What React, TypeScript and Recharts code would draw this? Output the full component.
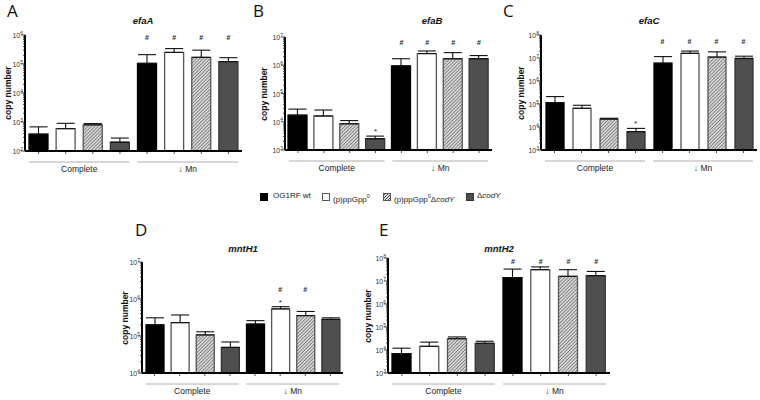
import React from "react";
import { Bar, Cell, ComposedChart, ErrorBar, Line, XAxis, YAxis } from "recharts";

const STRAINS = ["OG1RF wt", "(p)ppGpp⁰", "(p)ppGpp⁰ΔcodY", "ΔcodY"];
const CONDITIONS = ["Complete", "↓ Mn"];

// mean copy number and top of the error bar, Complete x4 then ↓Mn x4
const efaAMean = [380, 590, 800, 200, 105000, 250000, 170000, 120000];
const efaAUpper = [680, 900, 880, 280, 210000, 340000, 300000, 165000];
const efaAHash = [0, 0, 0, 0, 1, 1, 1, 1];
const efaAStar = [0, 0, 0, 0, 0, 0, 0, 0];

const efaBMean = [17000, 16000, 8500, 2500, 950000, 2600000, 1700000, 1700000];
const efaBUpper = [28000, 26000, 11000, 3100, 1700000, 3200000, 2800000, 2200000];
const efaBHash = [0, 0, 0, 0, 1, 1, 1, 1];
const efaBStar = [0, 0, 0, 1, 0, 0, 0, 0];

const efaCMean = [115000, 65000, 22000, 6300, 5900000, 16000000, 11000000, 9500000];
const efaCUpper = [210000, 88000, 24000, 8700, 11500000, 20000000, 18500000, 12000000];
const efaCHash = [0, 0, 0, 0, 1, 1, 1, 1];
const efaCStar = [0, 0, 0, 1, 0, 0, 0, 0];

const mntH1Mean = [200000, 230000, 107000, 49000, 210000, 540000, 355000, 280000];
const mntH1Upper = [310000, 370000, 130000, 69000, 260000, 620000, 460000, 310000];
const mntH1Hash = [0, 0, 0, 0, 0, 1, 1, 0];
const mntH1Star = [0, 0, 0, 0, 0, 1, 0, 0];

const mntH2Mean = [6900, 14500, 31000, 19600, 14000000, 31000000, 16000000, 17000000];
const mntH2Upper = [12000, 22000, 37000, 24000, 33000000, 41000000, 31000000, 26000000];
const mntH2Hash = [0, 0, 0, 0, 1, 1, 1, 1];
const mntH2Star = [0, 0, 0, 0, 0, 0, 0, 0];

const FILLS = ["#000000", "#ffffff", "HATCH", "#4f4f4f"];
const STROKES = ["#000000", "#555555", "#555555", "#333333"];
const FONT = "'Liberation Sans', Arial, sans-serif";

const PANELS = [
  { key: "a", letter: "A", title: "efaA", mean: efaAMean, upper: efaAUpper, hash: efaAHash, star: efaAStar, domain: [2, 6],
    left: 0, top: 0, width: 250, height: 175, plotLeft: 25, plotRight: 242, plotTop: 35, plotBottom: 151,
    barSize: 19, hashY: 40, titleX: 143, titleY: 20, letterX: 7, letterY: 1, labelX: 8 },
  { key: "b", letter: "B", title: "efaB", mean: efaBMean, upper: efaBUpper, hash: efaBHash, star: efaBStar, domain: [3, 7],
    left: 250, top: 0, width: 250, height: 175, plotLeft: 285, plotRight: 492, plotTop: 37, plotBottom: 150,
    barSize: 19, hashY: 45, titleX: 432, titleY: 20, letterX: 253, letterY: 1, labelX: 264 },
  { key: "c", letter: "C", title: "efaC", mean: efaCMean, upper: efaCUpper, hash: efaCHash, star: efaCStar, domain: [3, 8],
    left: 500, top: 0, width: 260, height: 175, plotLeft: 541, plotRight: 757, plotTop: 35, plotBottom: 150,
    barSize: 18, hashY: 44, titleX: 649, titleY: 20, letterX: 503, letterY: 1, labelX: 521 },
  { key: "d", letter: "D", title: "mntH1", mean: mntH1Mean, upper: mntH1Upper, hash: mntH1Hash, star: mntH1Star, domain: [4, 7],
    left: 110, top: 215, width: 240, height: 185, plotLeft: 142, plotRight: 343, plotTop: 262, plotBottom: 373,
    barSize: 18, hashY: 292, titleX: 243, titleY: 248, letterX: 135, letterY: 220, labelX: 125 },
  { key: "e", letter: "E", title: "mntH2", mean: mntH2Mean, upper: mntH2Upper, hash: mntH2Hash, star: mntH2Star, domain: [3, 8],
    left: 355, top: 215, width: 265, height: 185, plotLeft: 388, plotRight: 610, plotTop: 258, plotBottom: 373,
    barSize: 19, hashY: 264, titleX: 499, titleY: 248, letterX: 379, letterY: 220, labelX: 368 },
];

type PanelCfg = (typeof PANELS)[number];

function logTicks(lo: number, hi: number): number[] {
  const out: number[] = [];
  for (let e = lo; e < hi; e++) {
    for (let m = 1; m < 10; m++) out.push(m * Math.pow(10, e));
  }
  out.push(Math.pow(10, hi));
  return out;
}

function Panel({ cfg }: { cfg: PanelCfg }) {
  const data = cfg.mean.map((v, i) => ({
    name: `${CONDITIONS[Math.floor(i / 4)]} ${STRAINS[i % 4]}`,
    mean: v,
    upper: cfg.upper[i],
    err: [0, cfg.upper[i] - v],
    hash: cfg.hash[i],
    star: cfg.star[i],
  }));
  const hatchId = `hatch-${cfg.key}`;
  const axisX = cfg.plotLeft - cfg.left;
  const axisY = cfg.plotBottom - cfg.top;
  const band = (cfg.plotRight - cfg.plotLeft) / 8;

  const yTick = (props: any) => {
    const v = props.payload.value;
    const lg = Math.log10(v);
    const major = Math.abs(lg - Math.round(lg)) < 1e-6;
    return (
      <g>
        <line x1={axisX - (major ? 4 : 2)} x2={axisX} y1={props.y} y2={props.y} stroke="#222" strokeWidth={0.8} />
        {major && (
          <text x={axisX - 2} y={props.y + 3} textAnchor="end" fontSize={7} fill="#333" fontFamily={FONT}>
            10<tspan dy={-3.5} fontSize={5}>{Math.round(lg)}</tspan>
          </text>
        )}
      </g>
    );
  };

  const xTick = (props: any) => {
    const idx = props.index ?? props.payload?.index ?? 0;
    const x = props.x;
    return (
      <g>
        <line x1={x} x2={x} y1={axisY} y2={axisY + 3} stroke="#222" strokeWidth={0.8} />
        {idx % 4 === 0 && (
          <g>
            <line x1={x - band * 0.35} x2={x + band * 3.35} y1={axisY + 11} y2={axisY + 11} stroke="#999" strokeWidth={0.8} />
            <text x={x + band * 1.5} y={axisY + 21} textAnchor="middle" fontSize={8.5} fill="#222" fontFamily={FONT}>
              {CONDITIONS[Math.floor(idx / 4)]}
            </text>
          </g>
        )}
      </g>
    );
  };

  const markDot = (props: any) => {
    const { cx, cy, index, payload } = props;
    return (
      <g key={`mk-${index}`}>
        {payload.hash ? (
          <text x={cx} y={cfg.hashY - cfg.top} textAnchor="middle" fontSize={7} fontWeight={700} fill="#222" fontFamily={FONT}>#</text>
        ) : null}
        {payload.star ? (
          <text x={cx} y={cy - 2} textAnchor="middle" fontSize={8} fill="#222" fontFamily={FONT}>*</text>
        ) : null}
      </g>
    );
  };

  return (
    <div style={{ position: "absolute", left: cfg.left, top: cfg.top }}>
      <ComposedChart
        width={cfg.width}
        height={cfg.height}
        data={data}
        barCategoryGap={0}
        margin={{
          top: cfg.plotTop - cfg.top,
          left: 0,
          right: cfg.left + cfg.width - cfg.plotRight,
          bottom: cfg.top + cfg.height - cfg.plotBottom - 10,
        }}
      >
        <defs>
          <pattern id={hatchId} width={2.4} height={2.4} patternUnits="userSpaceOnUse" patternTransform="rotate(45)">
            <rect width={2.4} height={2.4} fill="#d8d8d8" />
            <line x1={0} y1={0} x2={0} y2={2.4} stroke="#555" strokeWidth={1.2} />
          </pattern>
        </defs>
        <XAxis dataKey="name" height={10} interval={0} tick={xTick} tickLine={false} axisLine={{ stroke: "#000", strokeWidth: 2 }} />
        <YAxis
          width={axisX}
          scale="log"
          domain={[Math.pow(10, cfg.domain[0]), Math.pow(10, cfg.domain[1])]}
          allowDataOverflow
          ticks={logTicks(cfg.domain[0], cfg.domain[1])}
          interval={0}
          tick={yTick}
          tickLine={false}
          axisLine={{ stroke: "#000", strokeWidth: 2 }}
        />
        <Bar dataKey="mean" barSize={cfg.barSize} isAnimationActive={false} strokeWidth={1.3}>
          {data.map((_, i) => (
            <Cell
              key={i}
              fill={FILLS[i % 4] === "HATCH" ? `url(#${hatchId})` : FILLS[i % 4]}
              stroke={STROKES[i % 4]}
            />
          ))}
          <ErrorBar dataKey="err" width={9} stroke="#111" strokeWidth={1.1} direction="y" />
        </Bar>
        <Line dataKey="upper" stroke="none" dot={markDot} activeDot={false} isAnimationActive={false} />
      </ComposedChart>
    </div>
  );
}

function LegendRow() {
  const items = [
    { box: { background: "#000", border: "1px solid #000" }, x: 260, tx: 273 },
    { box: { background: "#fff", border: "1px solid #555" }, x: 322, tx: 333 },
    { box: { background: "repeating-linear-gradient(135deg, #555 0 1px, #d8d8d8 1px 2.2px)", border: "1px solid #555" }, x: 383, tx: 394 },
    { box: { background: "#4f4f4f", border: "1px solid #333" }, x: 466, tx: 477 },
  ];
  const labels = [
    <span>OG1RF wt</span>,
    <span>(p)ppGpp<sup style={{ fontSize: 5.5 }}>0</sup></span>,
    <span>(p)ppGpp<sup style={{ fontSize: 5.5 }}>0</sup>Δ<i>codY</i></span>,
    <span>Δ<i>codY</i></span>,
  ];
  return (
    <>
      {items.map((it, i) => (
        <React.Fragment key={i}>
          <div style={{ position: "absolute", left: it.x, top: 193, width: 6, height: 6, ...it.box }} title={STRAINS[i]} />
          <div style={{ position: "absolute", left: it.tx, top: 191, fontSize: 8, lineHeight: "10px", color: "#222", whiteSpace: "nowrap" }}>
            {labels[i]}
          </div>
        </React.Fragment>
      ))}
    </>
  );
}

export default function App() {
  return (
    <div style={{ position: "absolute", left: 0, top: 0, width: 760, height: 400, background: "#fff", fontFamily: FONT, overflow: "hidden" }}>
      {PANELS.map((p) => (
        <React.Fragment key={p.key}>
          <Panel cfg={p} />
          <div style={{ position: "absolute", left: p.letterX, top: p.letterY, fontSize: 17, lineHeight: "19px", fontFamily: "'Open Sans', sans-serif", color: "#111" }}>
            {p.letter}
          </div>
          <div style={{ position: "absolute", left: p.titleX, top: p.titleY, transform: "translate(-50%, -50%)", fontSize: 9.5, fontWeight: 700, fontStyle: "italic", color: "#111", whiteSpace: "nowrap" }}>
            {p.title}
          </div>
          <div style={{ position: "absolute", left: p.labelX, top: (p.plotTop + p.plotBottom) / 2, transform: "translate(-50%, -50%) rotate(-90deg)", fontSize: 8.5, fontWeight: 700, color: "#111", whiteSpace: "nowrap" }}>
            copy number
          </div>
        </React.Fragment>
      ))}
      <LegendRow />
    </div>
  );
}
